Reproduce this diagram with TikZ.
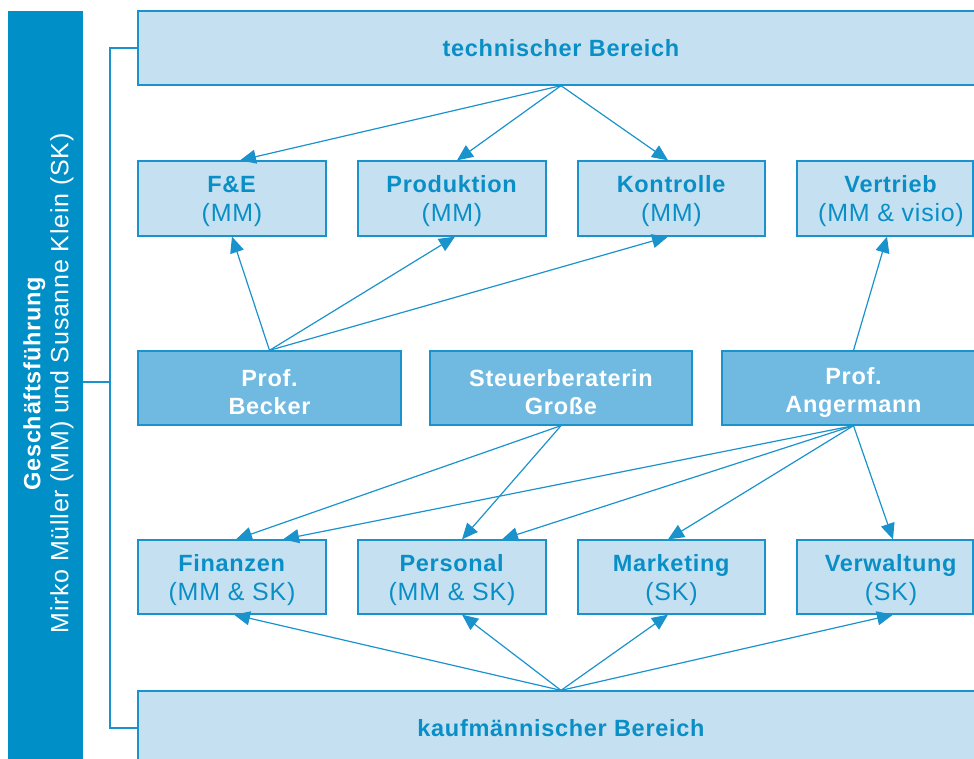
\documentclass[tikz,border=0pt]{standalone}
\usepackage{fontspec}
\setmainfont{Liberation Sans}[LetterSpace=3]
\usetikzlibrary{arrows.meta,calc}
\definecolor{bar}{HTML}{008FC7}
\definecolor{lightfill}{HTML}{C5E1F1}
\definecolor{midfill}{HTML}{70B9E0}
\definecolor{edge}{HTML}{1A93CD}
\definecolor{txt}{HTML}{0A8EC6}
\newcommand{\sub}[1]{{\fontsize{25}{29}\selectfont #1}}
\begin{document}
\begin{tikzpicture}[x=1pt,y=-1pt,
 lightbox/.style={draw=edge, line width=1.3pt, fill=lightfill, minimum height=74pt, inner sep=0pt,
   label={[boxtext]center:#1}},
 midbox/.style={draw=edge, line width=1.3pt, fill=midfill, minimum height=74pt, minimum width=263pt, inner sep=0pt,
   label={[boxtext, text=white, font=\fontsize{23.5}{28}\selectfont\bfseries, yshift=-1pt]center:#1}},
 boxtext/.style={align=center, text=txt, inner sep=0pt, yshift=-3pt, font=\fontsize{23.5}{29}\selectfont},
 arr/.style={draw=edge, line width=1.2pt, -{Triangle[length=16pt,width=14pt]}},
 link/.style={draw=edge, line width=1.3pt}]
\useasboundingbox (0,0) rectangle (974,758);
% left bar
\fill[bar] (8,11) rectangle (83,760);
\node[rotate=90, inner sep=0pt, text=white, align=center, font=\fontsize{23.5}{28}\selectfont] (gf) at (48.5,383.5) {\textbf{Geschäftsführung}\\\sub{Mirko Müller (MM) und Susanne Klein (SK)}};
\coordinate (barR) at (83,382);
% top and bottom
\node[draw=edge, line width=1.3pt, fill=lightfill, minimum height=74pt, minimum width=846pt, text=txt, font=\fontsize{23.5}{28}\selectfont\bfseries] (tech) at (561,48) {technischer Bereich};
\node[draw=edge, line width=1.3pt, fill=lightfill, minimum height=74pt, minimum width=846pt, text=txt, font=\fontsize{23.5}{28}\selectfont\bfseries] (kauf) at (561,728) {kaufmännischer Bereich};
% row 2
\node[lightbox={\textbf{F\&E}\\\sub{(MM)}}, minimum width=188pt, minimum height=75pt] (fe) at (232,198.5) {};
\node[lightbox={\textbf{Produktion}\\\sub{(MM)}}, minimum width=188pt, minimum height=75pt] (prod) at (452,198.5) {};
\node[lightbox={\textbf{Kontrolle}\\\sub{(MM)}}, minimum width=187pt, minimum height=75pt] (kontr) at (671.5,198.5) {};
\node[draw=edge, line width=1.3pt, fill=lightfill, minimum height=75pt, minimum width=176pt, inner sep=0pt] (vertrieb) at (885,198.5) {};
\node[boxtext] (vertriebtext) at (891,198.5) {\textbf{Vertrieb}\\\sub{(MM \& visio)}};
% row 3
\node[midbox={Prof.\\Becker}] (becker) at (269.5,388) {};
\node[midbox={Steuerberaterin\\Große}, minimum width=262pt] (steuer) at (561,388) {};
\node[midbox={Prof.\\Angermann}] (anger) at (853.5,388) {};
% row 4
\node[lightbox={\textbf{Finanzen}\\\sub{(MM \& SK)}}, minimum width=188pt] (fin) at (232,577) {};
\node[lightbox={\textbf{Personal}\\\sub{(MM \& SK)}}, minimum width=188pt] (pers) at (452,577) {};
\node[lightbox={\textbf{Marketing}\\\sub{(SK)}}, minimum width=187pt] (mark) at (671.5,577) {};
\node[draw=edge, line width=1.3pt, fill=lightfill, minimum height=74pt, minimum width=176pt, inner sep=0pt] (verw) at (885,577) {};
\node[boxtext] (verwtext) at (891,577) {\textbf{Verwaltung}\\\sub{(SK)}};
% bracket
\coordinate (bk) at (110.5,382);
\draw[link] (tech.west) -- ++(-27.5,0) |- (kauf.west);
\draw[link] (barR) -- (bk);
% arrows from top
\draw[arr] (tech.south) -- ([xshift=8]fe.north);
\draw[arr] (tech.south) -- ([xshift=5]prod.north);
\draw[arr] (tech.south) -- ([xshift=-3.5]kontr.north);
% Becker
\draw[arr] (becker.north) -- (fe.south);
\draw[arr] (becker.north) -- ([xshift=3]prod.south);
\draw[arr] (becker.north) -- ([xshift=-3.5]kontr.south);
% Angermann up
\draw[arr] (anger.north) -- ([xshift=2]vertrieb.south);
% Steuerberaterin
\draw[arr] (steuer.south) -- ([xshift=4]fin.north);
\draw[arr] (steuer.south) -- ([xshift=10]pers.north);
% Angermann down
\draw[arr] (anger.south) -- ([xshift=51]fin.north);
\draw[arr] (anger.south) -- ([xshift=50]pers.north);
\draw[arr] (anger.south) -- ([xshift=-3.5]mark.north);
\draw[arr] (anger.south) -- ([xshift=8]verw.north);
% kaufmaennisch
\draw[arr] (kauf.north) -- ([xshift=2]fin.south);
\draw[arr] (kauf.north) -- ([xshift=10]pers.south);
\draw[arr] (kauf.north) -- ([xshift=-3.5]mark.south);
\draw[arr] (kauf.north) -- ([xshift=8]verw.south);
\end{tikzpicture}
\end{document}
